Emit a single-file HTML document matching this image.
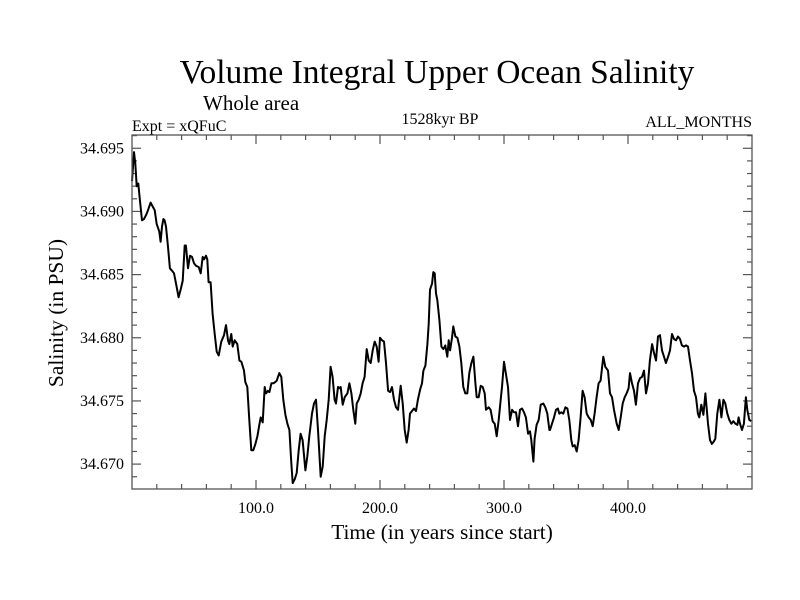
<!DOCTYPE html>
<html><head><meta charset="utf-8"><style>
body{margin:0;background:#fff;}
svg{display:block;font-family:"Liberation Serif",serif;}
</style></head><body>
<svg id="chart" width="800" height="600" viewBox="0 0 800 600">
<rect width="800" height="600" fill="#fff"/>
<text x="437" y="83" font-size="33.5" text-anchor="middle">Volume Integral Upper Ocean Salinity</text>
<text x="203" y="110" font-size="21">Whole area</text>
<text x="132" y="131" font-size="16">Expt = xQFuC</text>
<text x="440" y="124" font-size="16" text-anchor="middle">1528kyr BP</text>
<text x="752" y="127" font-size="16" text-anchor="end">ALL_MONTHS</text>
<text x="0" y="0" font-size="21.5" text-anchor="middle" transform="translate(63,313) rotate(-90)">Salinity (in PSU)</text>
<text x="442" y="539" font-size="21.3" text-anchor="middle">Time (in years since start)</text>
<g id="axes"></g>
<path id="series" fill="none" stroke="#000" stroke-width="2" stroke-linejoin="round"/>
<rect x="132" y="135" width="620" height="354" fill="none" stroke="#555" stroke-width="1.3"/>
</svg>
<script>
const years = [0.0,1.6,2.7,3.8,5.1,6.4,8.1,9.7,11.3,12.9,15.0,17.2,18.3,19.9,22.0,23.1,24.2,25.3,26.3,27.4,29.0,30.6,32.3,33.9,35.5,37.6,39.2,40.9,42.5,43.5,45.2,46.8,48.4,50.0,51.6,53.8,55.4,57.0,58.1,59.7,60.7,61.8,63.4,65.0,66.7,68.3,69.9,72.0,74.2,75.8,77.4,78.5,80.1,81.2,82.8,84.9,86.6,88.2,90.3,91.4,93.0,94.6,96.2,97.8,99.5,101.1,102.7,103.8,105.4,107.0,108.1,109.7,110.8,112.4,114.0,115.6,116.7,118.8,120.4,122.0,123.7,125.3,126.9,128.5,129.6,131.2,132.8,134.4,136.0,137.6,139.8,141.4,143.0,145.2,146.8,148.4,150.0,152.2,153.8,155.4,157.0,158.6,160.2,161.8,163.4,164.5,166.1,167.7,
168.3,169.9,171.5,173.7,175.3,176.9,178.5,180.1,181.2,182.8,184.4,186.0,187.6,189.3,190.9,192.5,194.1,195.7,197.3,198.9,200.0,201.6,203.2,204.8,206.5,208.1,209.7,211.3,212.9,214.5,216.7,218.3,219.9,221.5,223.1,224.2,225.8,227.4,229.0,230.6,232.3,233.9,235.0,236.6,238.2,239.3,240.3,242.0,243.0,244.1,245.2,246.2,247.9,249.5,251.1,252.7,254.3,255.4,256.5,258.1,259.1,260.8,262.4,264.0,265.6,267.2,268.8,270.4,272.0,273.7,275.3,276.9,278.0,279.6,281.2,282.8,284.4,285.5,287.6,289.2,290.9,292.5,294.1,295.7,297.3,298.4,300.0,301.6,303.2,304.8,306.5,308.1,309.7,311.3,312.9,314.5,316.1,317.7,319.4,321.0,322.0,323.7,324.7,326.3,328.0,329.6,331.7,333.3,334.9,336.6,
337.1,338.7,340.3,341.9,343.5,344.6,346.2,347.8,349.5,351.1,352.7,354.3,355.4,357.0,358.6,360.2,361.8,363.4,365.0,366.7,368.3,369.9,371.5,373.1,374.7,376.3,377.9,379.0,380.1,381.7,383.9,385.5,387.1,388.7,390.9,392.5,394.1,395.7,397.3,398.9,400.5,401.6,403.2,404.8,406.4,408.1,409.7,411.3,412.9,414.5,416.1,417.7,419.4,421.0,422.6,424.2,425.8,427.4,429.0,430.6,432.3,433.9,435.5,437.1,438.7,440.3,441.9,443.5,445.2,446.8,448.4,450.0,451.6,453.2,454.8,456.4,457.5,459.1,460.8,462.4,463.4,464.5,466.1,467.7,469.3,470.4,472.0,473.7,475.3,476.9,478.5,480.1,481.7,483.3,484.9,486.6,488.2,489.2,490.3,491.9,493.5,495.1,496.2,497.8,499.4];
const salinity = [34.6924,34.6947,34.6938,34.6920,34.6922,34.6909,34.6893,34.6894,34.6897,34.6901,34.6907,34.6903,34.6901,34.6890,34.6884,34.6876,34.6888,34.6894,34.6893,34.6888,34.6872,34.6855,34.6853,34.6851,34.6843,34.6832,34.6838,34.6845,34.6873,34.6873,34.6855,34.6865,34.6864,34.6859,34.6857,34.6856,34.6851,34.6864,34.6862,34.6865,34.6862,34.6844,34.6844,34.6819,34.6803,34.6789,34.6786,34.6797,34.6802,34.6810,34.6798,34.6795,34.6803,34.6793,34.6798,34.6795,34.6782,34.6781,34.6774,34.6765,34.6761,34.6735,34.6711,34.6711,34.6716,34.6722,34.6731,34.6737,34.6733,34.6761,34.6756,34.6758,34.6757,34.6764,34.6764,34.6765,34.6766,34.6772,34.6769,34.6751,34.6739,34.6732,34.6727,34.6701,34.6685,34.6688,34.6693,34.6711,34.6724,34.6719,34.6695,34.6706,34.6722,34.6740,34.6748,34.6751,34.6727,34.6690,34.6698,34.6722,34.6735,34.6751,34.6777,34.6769,34.6751,34.6748,34.6761,34.6760,
34.6761,34.6747,34.6753,34.6756,34.6764,34.6756,34.6743,34.6732,34.6748,34.6751,34.6756,34.6764,34.6769,34.6791,34.6782,34.6780,34.6790,34.6797,34.6793,34.6781,34.6800,34.6798,34.6797,34.6780,34.6758,34.6757,34.6761,34.6751,34.6745,34.6743,34.6762,34.6748,34.6727,34.6717,34.6727,34.6740,34.6742,34.6744,34.6742,34.6751,34.6759,34.6764,34.6774,34.6778,34.6795,34.6811,34.6838,34.6843,34.6852,34.6851,34.6835,34.6830,34.6814,34.6793,34.6791,34.6794,34.6785,34.6798,34.6790,34.6800,34.6809,34.6801,34.6800,34.6793,34.6780,34.6761,34.6756,34.6756,34.6772,34.6780,34.6785,34.6764,34.6753,34.6753,34.6762,34.6761,34.6756,34.6743,34.6745,34.6743,34.6734,34.6732,34.6722,34.6735,34.6751,34.6761,34.6781,34.6771,34.6761,34.6735,34.6743,34.6741,34.6741,34.6730,34.6743,34.6744,34.6741,34.6737,34.6724,34.6726,34.6719,34.6702,34.6720,34.6731,34.6735,34.6747,34.6748,34.6745,34.6740,34.6727,
34.6727,34.6732,34.6737,34.6743,34.6744,34.6740,34.6741,34.6740,34.6745,34.6744,34.6735,34.6719,34.6714,34.6715,34.6710,34.6719,34.6737,34.6758,34.6753,34.6740,34.6737,34.6735,34.6730,34.6740,34.6753,34.6764,34.6766,34.6776,34.6785,34.6777,34.6774,34.6756,34.6753,34.6743,34.6732,34.6727,34.6737,34.6748,34.6753,34.6756,34.6760,34.6772,34.6764,34.6758,34.6747,34.6764,34.6768,34.6769,34.6774,34.6756,34.6764,34.6782,34.6795,34.6788,34.6782,34.6801,34.6802,34.6790,34.6785,34.6780,34.6785,34.6790,34.6803,34.6799,34.6798,34.6801,34.6799,34.6794,34.6793,34.6794,34.6793,34.6782,34.6772,34.6758,34.6753,34.6740,34.6737,34.6747,34.6739,34.6756,34.6745,34.6732,34.6719,34.6716,34.6718,34.6720,34.6740,34.6751,34.6737,34.6751,34.6748,34.6740,34.6735,34.6732,34.6734,34.6732,34.6731,34.6737,34.6732,34.6727,34.6732,34.6753,34.6743,34.6735,34.6734];
const xTickLabels = ["100.0","200.0","300.0","400.0"];
const xTickValues = [100,200,300,400];
const yTickLabels = ["34.695","34.690","34.685","34.680","34.675","34.670"];
const yTickValues = [34.695,34.690,34.685,34.680,34.675,34.670];

const L=132,R=752,T=135,B=489,X0=0,X1=500,Y0=34.66803,Y1=34.69605;
function sx(v){return L+(v-X0)/(X1-X0)*(R-L);}
function sy(v){return B-(v-Y0)/(Y1-Y0)*(B-T);}
const NS="http://www.w3.org/2000/svg";
const ax=document.getElementById('axes');
function line(x1,y1,x2,y2,name){const l=document.createElementNS(NS,'line');
l.setAttribute('x1',x1);l.setAttribute('y1',y1);l.setAttribute('x2',x2);l.setAttribute('y2',y2);
l.setAttribute('stroke','#555');l.setAttribute('stroke-width','1.2');


ax.appendChild(l);}
function text(x,y,s,anchor,name){const t=document.createElementNS(NS,'text');
t.setAttribute('x',x);t.setAttribute('y',y);t.setAttribute('font-size','16');t.setAttribute('text-anchor',anchor);t.textContent=s;


ax.appendChild(t);}
for(let v=20;v<500;v+=20){const x=sx(v);const major=v%100===0;const len=major?9:5;
line(x,B,x,B-len,'x-tick');line(x,T,x,T+len,'x-tick-top');}
for(let k=0;k<28;k++){const v=34.669+k*0.001;if(v<Y0||v>Y1)continue;const y=sy(v);const major=(Math.round(v*1000)%5===0);const len=major?9:5;
line(L,y,L+len,y,'y-tick');line(R,y,R-len,y,'y-tick-right');}
xTickLabels.forEach((s,i)=>text(sx(xTickValues[i]),513,s,'middle','x-tick-label'));
yTickLabels.forEach((s,i)=>text(124,sy(yTickValues[i])+5,s,'end','y-tick-label'));
let d='';years.forEach((yr,i)=>{d+=(i?'L':'M')+sx(yr).toFixed(1)+','+sy(salinity[i]).toFixed(1);});
document.getElementById('series').setAttribute('d',d);
</script>
</body></html>
